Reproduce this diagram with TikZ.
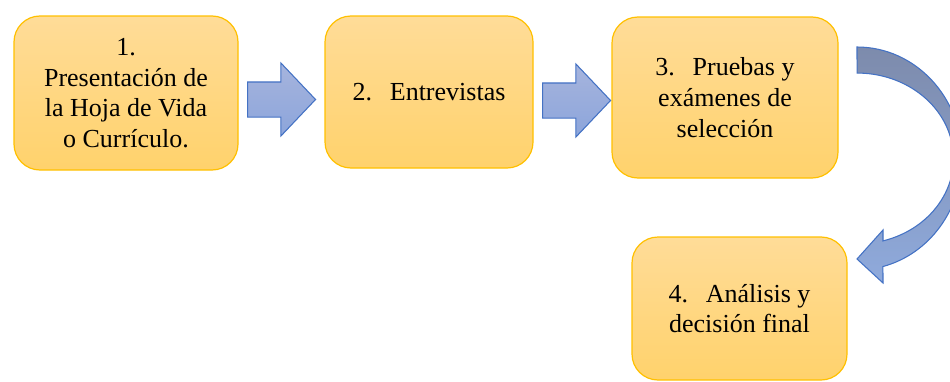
\documentclass[tikz,border=0pt]{standalone}
\usepackage{fontspec}
\setmainfont{Liberation Serif}
\usetikzlibrary{shapes.arrows}
\definecolor{boxtop}{HTML}{FFDC98}
\definecolor{boxbot}{HTML}{FFD26C}
\definecolor{boxline}{HTML}{FFC000}
\definecolor{arrtop}{HTML}{A6B4DD}
\definecolor{arrbot}{HTML}{8CA5DB}
\definecolor{arrline}{HTML}{4472C4}
\definecolor{curvtop}{HTML}{7D8BAC}
\definecolor{curvbot}{HTML}{8FAADC}
\tikzset{
  stepbox/.style={rectangle, rounded corners=19.5pt, draw=boxline, line width=0.9pt,
    top color=boxtop, bottom color=boxbot, align=center, inner sep=0pt,
    font=\fontsize{19.5}{23}\selectfont},
  blockarrow/.style={single arrow, draw=arrline, line width=0.8pt,
    top color=arrtop, bottom color=arrbot, inner sep=12.75pt,
    minimum height=51pt, minimum width=54pt,
    single arrow head extend=14.25pt, single arrow tip angle=93, anchor=tail},
  curvarrow/.style={draw=arrline, line width=0.8pt, top color=curvtop, bottom color=curvbot, line join=miter}
}
\begin{document}
\begin{tikzpicture}[x=0.75pt,y=-0.75pt]
\useasboundingbox (0,0) rectangle (950,382);
\clip (0,0) rectangle (950,382);
\node[stepbox, minimum width=168pt, minimum height=115.5pt] (b1) at (126,93)
  {1.\\Presentación de\\la Hoja de Vida\\o Currículo.};
\node[stepbox, minimum width=156pt, minimum height=114pt] (b2) at (429,92)
  {2.\hspace{0.35em} Entrevistas};
\node[stepbox, minimum width=169.5pt, minimum height=120.75pt] (b3) at (725,97.5)
  {3.\hspace{0.35em} Pruebas y\\exámenes de\\selección};
\node[stepbox, minimum width=161.25pt, minimum height=107.25pt] (b4) at (739.5,308.5)
  {\raisebox{-12pt}{\parbox{150pt}{\centering 4.\hspace{0.35em} Análisis y\\decisión final}}};
\node[blockarrow] (a1) at (247,99.5) {};
\node[blockarrow] (a2) at (542,100.5) {};
\coordinate (cs) at (857,47);
\draw[curvarrow] (cs) arc[start angle=90, end angle=-75.7, x radius=78.75pt, y radius=83.625pt]
  -- (883,283) -- (857,259) -- (883,230) -- (883,240.9)
  arc[start angle=-74.4, end angle=90, x radius=72.375pt, y radius=64.125pt] -- cycle;
\end{tikzpicture}
\end{document}
